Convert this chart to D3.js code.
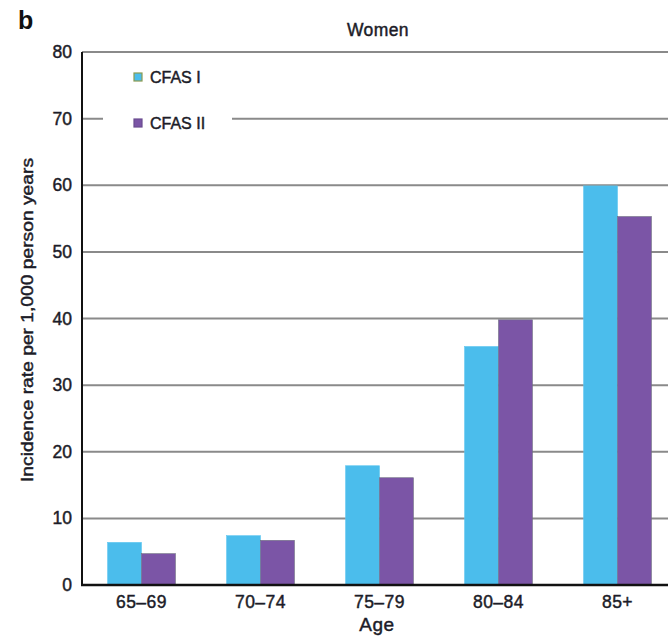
<!DOCTYPE html>
<html><head><meta charset="utf-8">
<script src="https://cdn.jsdelivr.net/npm/d3@7"></script>
<style>body{margin:0;background:#fff}svg{display:block;font-family:"Liberation Sans",Arial,sans-serif}
.t{fill:#1c1c28;stroke:#1c1c28;stroke-width:0.45px}</style>
</head><body>
<svg id="c" width="668" height="638"></svg>
<script>
const categories = ["65–69","70–74","75–79","80–84","85+"];
const seriesNames = ["CFAS I","CFAS II"];
const cfas1 = [6.4, 7.4, 17.9, 35.8, 59.9];
const cfas2 = [4.7, 6.7, 16.1, 39.8, 55.3];
const yTicks = [0,10,20,30,40,50,60,70,80];
const colors = ["#4bbdec","#7b55a6"];

(function(){
const svg = d3.select("#c");
const pLeft = 82, pRight = 677, pTop = 52, pBottom = 585;
const y = d3.scaleLinear().domain([0,80]).range([pBottom, pTop]);
const x0 = d3.scaleBand().domain(categories).range([pLeft, pRight]).paddingInner(0.43).paddingOuter(0.215);
const x1 = d3.scaleBand().domain(seriesNames).range([0, x0.bandwidth()]);

// gridlines
svg.append("g").selectAll("line").data(yTicks.filter(d=>d>0)).join("line")
  .attr("x1", pLeft).attr("x2", 668).attr("y1", d=>y(d)).attr("y2", d=>y(d))
  .attr("stroke","#8a8a8a").attr("stroke-width",2);

// y tick labels
svg.append("g").selectAll("text").data(yTicks).join("text").attr("class","t")
  .attr("x", 72).attr("y", d=>y(d)+6).attr("text-anchor","end")
  .attr("font-size",17.5).text(d=>d);

// bars
const data = categories.map((c,i)=>({c, vals:[cfas1[i], cfas2[i]]}));
const g = svg.append("g").selectAll("g").data(data).join("g")
  .attr("transform", d=>`translate(${x0(d.c)},0)`);
g.selectAll("rect").data(d=>d.vals.map((v,j)=>({v, s:seriesNames[j], j}))).join("rect")
  .attr("x", d=>x1(d.s)).attr("width", x1.bandwidth())
  .attr("y", d=>y(d.v)).attr("height", d=>pBottom - y(d.v))
  .attr("fill", d=>colors[d.j]).attr("stroke", d=>d.j===0?"#5fc6f0":"#6e6e80").attr("stroke-width",0.6);

// axes lines
svg.append("line").attr("x1",pLeft).attr("x2",pLeft).attr("y1",pTop).attr("y2",pBottom+1).attr("stroke","#111").attr("stroke-width",2);
svg.append("line").attr("x1",pLeft-1).attr("x2",668).attr("y1",pBottom).attr("y2",pBottom).attr("stroke","#111").attr("stroke-width",2.5);

// x tick labels
svg.append("g").selectAll("text").data(categories).join("text").attr("class","t")
  .attr("x", d=>x0(d)+x0.bandwidth()/2).attr("y", 608).attr("text-anchor","middle")
  .attr("font-size",17.5).attr("letter-spacing",0.5).text(d=>d);

// legend
svg.append("rect").attr("x",103).attr("y",104).attr("width",129).attr("height",30).attr("fill","#fff");
const leg = svg.append("g").selectAll("g").data(seriesNames).join("g")
  .attr("transform",(d,i)=>`translate(134,${73 + i*46})`);
leg.append("rect").attr("width",8).attr("height",8)
  .attr("fill",(d,i)=>colors[i]).attr("stroke",(d,i)=>i===0?"#8a9a50":"#6a4c90").attr("stroke-width",1.2);
leg.append("text").attr("class","t").attr("x",16).attr("y",10).attr("font-size",16).text(d=>d);

// titles
svg.append("text").attr("x",18).attr("y",29).attr("font-size",25).attr("font-weight","bold").attr("fill","#111").text("b");
svg.append("text").attr("class","t").attr("x",378).attr("y",36).attr("text-anchor","middle").attr("font-size",17.5).attr("letter-spacing",0.4).text("Women");
svg.append("text").attr("class","t").attr("x",377).attr("y",631).attr("text-anchor","middle").attr("font-size",19).attr("letter-spacing",0.5).text("Age");
svg.append("text").attr("class","t").attr("transform","translate(33,320) rotate(-90)").attr("text-anchor","middle")
  .attr("font-size",16.5).attr("textLength",324).attr("lengthAdjust","spacingAndGlyphs")
  .text("Incidence rate per 1,000 person years");
})();
</script>
</body></html>
